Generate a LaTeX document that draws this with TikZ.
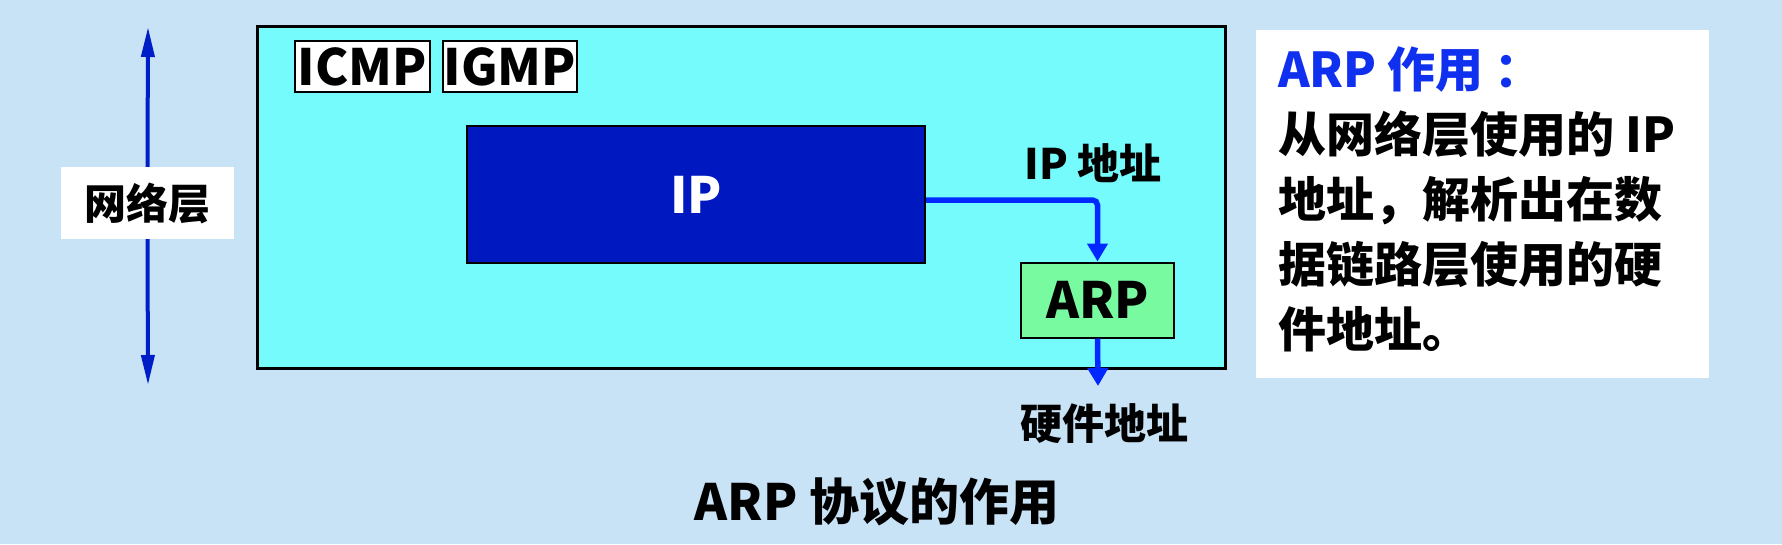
\documentclass[tikz,border=0pt]{standalone}
\usepackage{fontspec}
\setmainfont{Noto Sans CJK SC Black}
\usetikzlibrary{arrows.meta}
\definecolor{bgblue}{RGB}{200,226,246}
\definecolor{layercyan}{RGB}{117,251,251}
\definecolor{ipblue}{RGB}{0,24,192}
\definecolor{arpgreen}{RGB}{120,250,160}
\definecolor{linkblue}{RGB}{0,40,255}
\definecolor{axisblue}{RGB}{0,30,200}
\definecolor{titleblue}{RGB}{16,48,240}
\begin{document}
\begin{tikzpicture}[x=1pt,y=-1pt,
  box/.style={draw, line width=2pt, inner sep=0pt},
  link/.style={draw=linkblue, line width=5.5pt, rounded corners=5pt, -{Triangle[width=20pt,length=18pt]}},
  axis/.style={draw=axisblue, line width=4pt, -{Triangle[width=13pt,length=30pt]}},
  big/.style={font=\fontsize{50}{60}\selectfont},
  mid/.style={font=\fontsize{42}{50}\selectfont}]
  \fill[bgblue] (0,0) rectangle (1782,544);
  \useasboundingbox (0,0) rectangle (1782,544);
  % network layer
  \node[box, line width=3pt, fill=layercyan, minimum width=968pt, minimum height=342pt] (netlayer) at (741,197) {};
  \node[box, fill=white, minimum width=135pt, minimum height=51pt, font=\fontsize{50}{60}\selectfont] (icmp) at (362.5,66.5) {ICMP};
  \node[box, fill=white, minimum width=134pt, minimum height=51pt, font=\fontsize{50}{60}\selectfont] (igmp) at (510,66.5) {IGMP};
  \node[box, fill=ipblue, text=white, minimum width=458pt, minimum height=137pt, big] (ip) at (696,194.5) {IP};
  \node[box, fill=arpgreen, minimum width=153pt, minimum height=75pt, big] (arp) at (1097.5,300) {ARP};
  \node[mid] (ipaddr) at (1093,163) {IP 地址};
  \draw[link] ([yshift=-5.5pt]ip.east) -| (arp.north);
  \coordinate (hwtip) at (1098,386);
  \draw[link] (arp.south) -- (hwtip);
  \node[mid] (hwaddr) at (1104,424) {硬件地址};
  % layer axis
  \node[fill=white, minimum width=173pt, minimum height=72pt, mid] (layername) at (147.5,203) {网络层};
  \coordinate (axtop) at (148,27);
  \coordinate (axbot) at (148,385);
  \draw[axis] (layername.north) -- (axtop);
  \draw[axis] (layername.south) -- (axbot);
  \node[font=\fontsize{50}{58}\selectfont] (caption) at (877,502) {ARP 协议的作用};
  % note
  \node[fill=white, minimum width=453pt, minimum height=348pt] (note) at (1482.5,204) {};
  \node[anchor=north west, align=left, inner sep=0pt, font=\fontsize{48}{65}\selectfont] (notetext) at (1278,46)
    {\textcolor{titleblue}{ARP 作用~：}\\从网络层使用的 IP\\地址，解析出在数\\据链路层使用的硬\\件地址。};
\end{tikzpicture}
\end{document}
